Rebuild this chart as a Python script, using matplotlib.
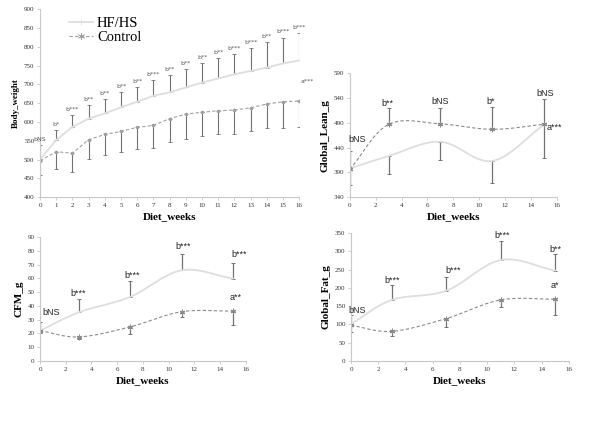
import numpy as np
import matplotlib
matplotlib.use("Agg")
import matplotlib.pyplot as plt

# ---- body weight (weekly) ----
bw_weeks = np.arange(17)
bw_hf = [500, 552, 587, 609, 623, 639, 654, 670, 679, 692, 705, 716, 727, 736, 745, 756, 764]
bw_hf_top = [539, 580, 618, 646, 662, 679, 693, 711, 724, 740, 757, 771, 782, 797, 812, 825, 838]
bw_ctrl = [497, 521, 517, 553, 567, 575, 586, 591, 609, 621, 626, 630, 632, 638, 648, 654, 656]
bw_ctrl_bot = [458, 476, 466, 501, 512, 520, 529, 532, 546, 556, 563, 568, 569, 575, 583, 585, 587]
bw_labels = ["bNS", "b*", "b***", "b**", "b**", "b**", "b**", "b***", "b**", "b**",
             "b**", "b**", "b***", "b***", "b**", "b***", "b***"]

# ---- DEXA time points ----
dx_weeks = [0, 3, 7, 11, 15]

lean_hf = [398, 423, 452, 413, 486]
lean_hf_bot = [364, 386, 416, 368, 420]
lean_ctrl = [396, 487, 488, 477, 487]
lean_ctrl_top = [433, 521, 521, 523, 538]
lean_labels = ["bNS", "b**", "bNS", "b*", "bNS"]

cfm_hf = [22, 35.3, 46.6, 65.9, 59.9]
cfm_hf_top = [28.6, 45.2, 57.9, 77.9, 71.2]
cfm_ctrl = [22.1, 17.5, 24.8, 35.8, 36.3]
cfm_ctrl_bot = [20.2, 15.9, 19.7, 31.7, 26.2]
cfm_labels = ["bNS", "b***", "b***", "b***", "b***"]

fat_hf = [101, 167, 192, 276, 247]
fat_hf_top = [125, 207, 230, 328, 292]
fat_ctrl = [97.5, 81, 116, 167, 169]
fat_ctrl_bot = [80, 69, 94, 147, 127]
fat_labels = ["bNS", "b***", "b***", "b***", "b**"]

HF_COL = "#dedede"
CT_COL = "#8a8a8a"
ERR_COL = "#727272"
SPINE = "#c8c8c8"
SERIF = "Liberation Serif"
STAR = (6, 2, 0)


def smooth(x, y, n=20):
    # catmull-rom curve through the points (Excel-like smoothed line)
    x = np.asarray(x, float)
    y = np.asarray(y, float)
    px = np.concatenate([[2 * x[0] - x[1]], x, [2 * x[-1] - x[-2]]])
    py = np.concatenate([[2 * y[0] - y[1]], y, [2 * y[-1] - y[-2]]])
    xs, ys = [], []
    t = np.linspace(0, 1, n)
    for i in range(1, len(px) - 2):
        for p, out in ((px, xs), (py, ys)):
            p0, p1, p2, p3 = p[i - 1], p[i], p[i + 1], p[i + 2]
            out.extend(0.5 * (2 * p1 + (-p0 + p2) * t + (2 * p0 - 5 * p1 + 4 * p2 - p3) * t ** 2
                              + (-p0 + 3 * p1 - 3 * p2 + p3) * t ** 3))
    return np.array(xs), np.array(ys)


def style(ax, ylim, yticks, xticks, ylabel, yfs=7, tfs=5):
    ax.set_xlim(0, 16)
    ax.set_ylim(*ylim)
    ax.set_yticks(yticks)
    ax.set_xticks(xticks)
    for s in ["top", "right"]:
        ax.spines[s].set_visible(False)
    for s in ["left", "bottom"]:
        ax.spines[s].set_color(SPINE)
        ax.spines[s].set_linewidth(0.8)
    ax.tick_params(length=2, width=0.6, color=SPINE, labelsize=tfs, labelcolor="#333333", pad=2)
    for lab in ax.get_xticklabels() + ax.get_yticklabels():
        lab.set_family(SERIF)
    ax.set_xlabel("Diet_weeks", fontsize=8, fontweight="bold", family=SERIF, labelpad=3)
    ax.set_ylabel(ylabel, fontsize=yfs, fontweight="bold", family=SERIF, labelpad=3)


fig = plt.figure(figsize=(6, 4.24), dpi=100)

# ---- panel 1: body weight ----
ax1 = fig.add_axes([0.0667, 0.535, 0.432, 0.443])
hf_err = np.array(bw_hf_top) - np.array(bw_hf)
ct_err = np.array(bw_ctrl) - np.array(bw_ctrl_bot)
ax1.errorbar(bw_weeks, bw_hf, yerr=[np.zeros(17), hf_err], fmt="none", ecolor=ERR_COL,
             elinewidth=0.8, capsize=1.2, capthick=0.6)
ax1.errorbar(bw_weeks, bw_ctrl, yerr=[ct_err, np.zeros(17)], fmt="none", ecolor=ERR_COL,
             elinewidth=0.8, capsize=1.2, capthick=0.6)
ax1.plot(bw_weeks, bw_hf, color=HF_COL, lw=1.3, marker="+", ms=2, mew=0.6, label="HF/HS")
ax1.plot(bw_weeks, bw_ctrl, color="#a0a0a0", lw=0.8, ls=(0, (3, 2)), marker=STAR, ms=2.5,
         mew=0.5, label="Control")
for w, top, lab in zip(bw_weeks, bw_hf_top, bw_labels):
    ax1.text(w, top + 8, lab, fontsize=4.5, color="#555555", ha="center", va="bottom")
ax1.text(16.5, 709, "a***", fontsize=4.5, color="#555555", ha="center", va="center")
style(ax1, (400, 900), np.arange(400, 901, 50), np.arange(0, 17), "Body_weight", yfs=6.5)
leg = ax1.legend(loc="upper left", bbox_to_anchor=(0.09, 0.99), frameon=False,
                 prop={"family": SERIF, "size": 10.5}, handlelength=1.6, handletextpad=0.3,
                 labelspacing=0.05, borderaxespad=0, markerscale=2)

# ---- helper for DEXA panels ----
def dexa(ax, hf, hf_end, ct, ct_end, hf_up):
    hf = np.array(hf, float)
    ct = np.array(ct, float)
    hf_d = np.abs(np.array(hf_end) - hf)
    ct_d = np.abs(np.array(ct_end) - ct)
    z = np.zeros(len(hf))
    hf_yerr = [z, hf_d] if hf_up else [hf_d, z]
    ct_yerr = [ct_d, z] if hf_up else [z, ct_d]
    ax.errorbar(dx_weeks, hf, yerr=hf_yerr, fmt="none", ecolor=ERR_COL, elinewidth=0.9,
                capsize=1.5, capthick=0.7)
    ax.errorbar(dx_weeks, ct, yerr=ct_yerr, fmt="none", ecolor=ERR_COL, elinewidth=0.9,
                capsize=1.5, capthick=0.7)
    sx, sy = smooth(dx_weeks, hf)
    ax.plot(sx, sy, color=HF_COL, lw=1.3)
    sx, sy = smooth(dx_weeks, ct)
    ax.plot(sx, sy, color=CT_COL, lw=0.8, ls=(0, (3, 2)))
    ax.plot(dx_weeks, ct, ls="none", marker=STAR, ms=4, color=CT_COL, mew=0.7)


LAB = dict(fontsize=6.5, color="#222222", family="Liberation Sans", ha="center", va="center")

# ---- panel 2: lean ----
ax2 = fig.add_axes([0.583, 0.535, 0.345, 0.292])
dexa(ax2, lean_hf, lean_hf_bot, lean_ctrl, lean_ctrl_top, hf_up=False)
for w, lab, (lx, ly) in zip(dx_weeks, lean_labels,
                            [(0.55, 457), (2.9, 529), (7.0, 534), (10.9, 534), (15.1, 549)]):
    ax2.text(lx, ly, lab, **LAB)
ax2.text(15.25, 481, "a***", fontsize=6.5, color="#222222", family="Liberation Sans",
         ha="left", va="center")
style(ax2, (340, 590), np.arange(340, 591, 50), np.arange(0, 17, 2), "Global_Lean_g", yfs=8)

# ---- panel 3: CFM ----
ax3 = fig.add_axes([0.0667, 0.1486, 0.343, 0.292])
dexa(ax3, cfm_hf, cfm_hf_top, cfm_ctrl, cfm_ctrl_bot, hf_up=True)
for lab, (lx, ly) in zip(cfm_labels, [(0.9, 35.3), (3.0, 48.8), (7.2, 62.0), (11.1, 82.9), (15.5, 77.2)]):
    ax3.text(lx, ly, lab, **LAB)
ax3.text(15.2, 46.2, "a**", **LAB)
style(ax3, (0, 90), np.arange(0, 91, 10), np.arange(0, 17, 2), "CFM_g", yfs=8)

# ---- panel 4: fat ----
ax4 = fig.add_axes([0.585, 0.1486, 0.363, 0.302])
dexa(ax4, fat_hf, fat_hf_top, fat_ctrl, fat_ctrl_bot, hf_up=True)
for lab, (lx, ly) in zip(fat_labels, [(0.45, 138), (3.0, 221), (7.5, 246), (11.1, 344), (15.0, 305)]):
    ax4.text(lx, ly, lab, **LAB)
ax4.text(15.0, 206, "a*", **LAB)
style(ax4, (0, 350), np.arange(0, 351, 50), np.arange(0, 17, 2), "Global_Fat_g", yfs=8)

fig.savefig("out.png", dpi=100)
